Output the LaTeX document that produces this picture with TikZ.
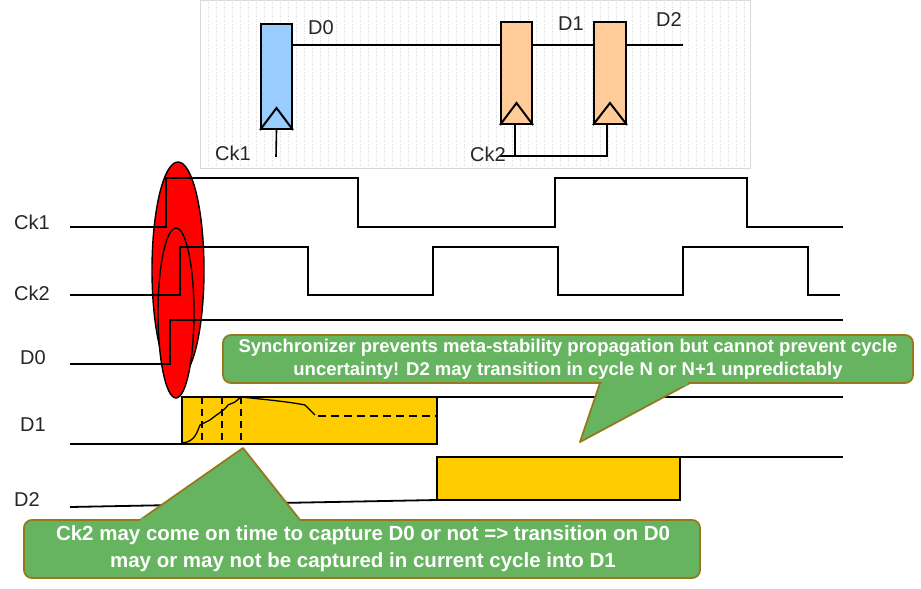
\documentclass[tikz,border=0pt]{standalone}
\usepackage{fontspec}
\setmainfont{Liberation Sans}
\begin{document}
\begin{tikzpicture}[x=1pt,y=-1pt,
  wave/.style={line width=1.8pt,line join=miter},
  ff/.style={draw,line width=2pt},
  lbl/.style={font=\fontsize{20}{22}\selectfont,text=black!85,inner sep=0pt},
  call/.style={fill=calloutG,draw=calloutB,line width=1.8pt},
  ctext/.style={text=white,align=center,inner sep=0pt}]
\definecolor{calloutG}{RGB}{102,180,96}
\definecolor{calloutB}{RGB}{150,120,30}
\definecolor{ffblue}{RGB}{153,204,255}
\definecolor{fforange}{RGB}{255,204,153}
\definecolor{gold}{RGB}{255,204,0}
\useasboundingbox (0,0) rectangle (921,589);
% schematic background
\fill[white] (200,0) rectangle (750,168);
\draw[gray!30,dotted,step=8] (200,0) grid (750,168);
\draw[gray!30,line width=0.8pt] (200,0) rectangle (750,168);
% flip-flops
\node[ff,fill=ffblue,minimum width=31,minimum height=105,inner sep=0,anchor=north west] (ffa) at (260,23) {};
\node[ff,fill=fforange,minimum width=31,minimum height=102,inner sep=0,anchor=north west] (ffb) at (500,21) {};
\node[ff,fill=fforange,minimum width=32,minimum height=102,inner sep=0,anchor=north west] (ffc) at (593,21) {};
\foreach \f in {ffa,ffb,ffc}{\draw[line width=2pt] (\f.south west) -- ([yshift=22]\f.south) -- (\f.south east);}
\coordinate (ck1e) at (276,157);
\coordinate (d2e) at (683,45);
\coordinate (ck2e) at (500,156);
\draw[line width=1.6pt] (ffa.south) -- (ck1e);
\draw[line width=1.6pt] (ffa.east |- 0,45) -- (ffb.west |- 0,45);
\draw[line width=1.6pt] (ffb.east |- 0,45) -- (ffc.west |- 0,45);
\draw[line width=1.6pt] (ffc.east |- 0,45) -- (d2e);
\draw[line width=1.6pt] (ck2e) -- (607,156) -- (ffc.south -| 607,0);
\draw[line width=1.6pt] (ffb.south -| 515,0) -- (515,156);
\node[lbl,anchor=west] (lD0) at (308,28) {D0};
\node[lbl,anchor=west] (lD1) at (558,24) {D1};
\node[lbl,anchor=west] (lD2) at (656,20) {D2};
\node[lbl,anchor=west] (lCk1) at (215,153) {Ck1};
\node[lbl,anchor=west] (lCk2) at (470,154) {Ck2};
% red ellipses
\fill[red,draw=black,line width=1.4pt] (178,270) ellipse [x radius=26,y radius=108];
\draw[red,fill=red,draw=black,line width=1.4pt] (176,313) ellipse [x radius=18,y radius=85];
% waveforms
\draw[wave] (70,227) -- (166,227) -- (166,178) -- (358,178) -- (358,227) -- (555,227) -- (555,178) -- (747,178) -- (747,227) -- (843,227);
\draw[wave] (70,295) -- (180,295) -- (180,247) -- (308,247) -- (308,295) -- (433,295) -- (433,247) -- (558,247) -- (558,295) -- (683,295) -- (683,247) -- (808,247) -- (808,295) -- (840,295);
\draw[wave] (70,364) -- (170,364) -- (170,320) -- (843,320);
% D1
\draw[wave,fill=gold] (182,397) rectangle (437,444);
\draw[wave] (70,444) -- (182,444);
\draw[wave] (437,397) -- (843,397);
\draw[wave,dashed,dash pattern=on 7pt off 5pt] (202,397) -- (202,444) (222,397) -- (222,444) (241,397) -- (241,444);
\draw[line width=1.3pt] (182,443) .. controls (195,442) and (197,432) .. (200,425) -- (210,420) .. controls (220,412) and (225,410) .. (228,405) -- (235,402) -- (241,397)
  .. controls (270,400) and (290,402) .. (305,405) -- (315,415);
\draw[wave,dash pattern=on 8pt off 5pt] (318,416) -- (437,416);
% D2
\draw[wave] (70,507) -- (437,500);
\draw[wave,fill=gold] (437,457) rectangle (680,500);
\draw[wave] (680,457) -- (843,457);
% labels
\node[lbl,anchor=west] (w1) at (14,222) {Ck1};
\node[lbl,anchor=west] (w2) at (14,293) {Ck2};
\node[lbl,anchor=west] (w3) at (20,358) {D0};
\node[lbl,anchor=west] (w4) at (20,425) {D1};
\node[lbl,anchor=west] (w5) at (14,500) {D2};
% callouts
\draw[call,line join=round] (600,383) -- (580,442) -- (690,383);
\draw[call,rounded corners=8] (223,335) rectangle (913,383);
\fill[calloutG] (601.5,380.5) -- (688.5,380.5) -- (686.5,386) -- (602.5,386) -- cycle;
\node[ctext,font=\fontsize{18.5}{23}\selectfont\bfseries] (t1) at (568,359) {Synchronizer prevents meta-stability propagation but cannot prevent cycle\\uncertainty! D2 may transition in cycle N or N+1 unpredictably};
\draw[call,line join=round] (140,520) -- (243,448) -- (300,520);
\draw[call,rounded corners=8] (24,520) rectangle (700,578);
\fill[calloutG] (142,517.5) -- (298,517.5) -- (300,522.5) -- (138.5,522.5) -- cycle;
\node[ctext,font=\fontsize{20.5}{27}\selectfont\bfseries] (t2) at (363,549) {Ck2 may come on time to capture D0 or not => transition on D0\\may or may not be captured in current cycle into D1};
\end{tikzpicture}
\end{document}
